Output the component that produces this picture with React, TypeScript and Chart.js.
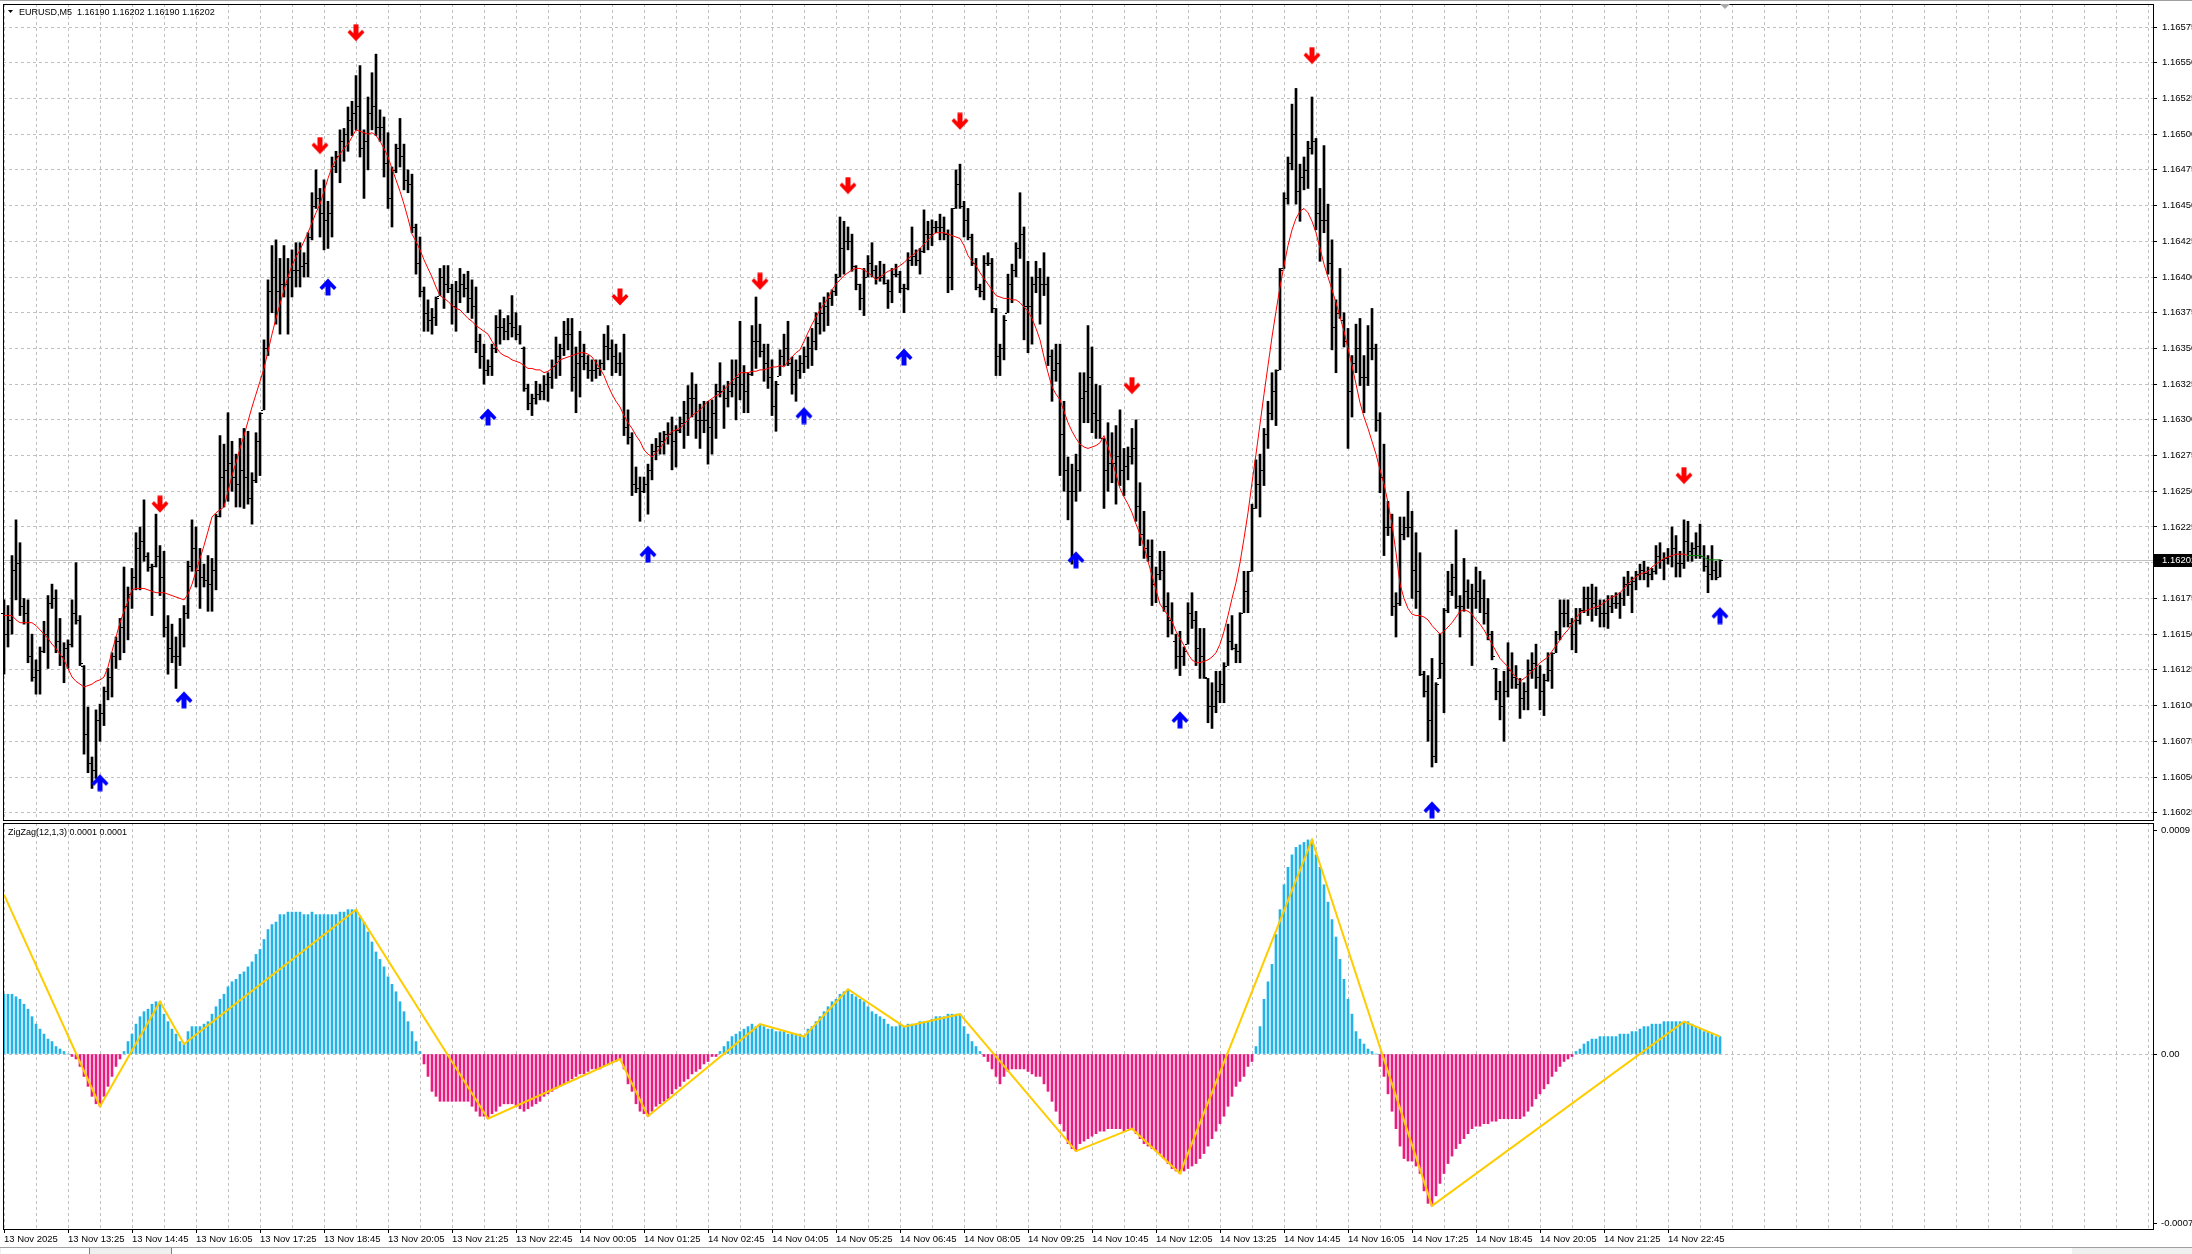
import React, { useEffect, useRef } from "react";
import { Chart, registerables } from "chart.js";

Chart.register(...registerables);

// ---- data (prices stored in points of 0.00001 above BASE_PRICE) ----
const BASE_PRICE = 1.16;
const POINT = 0.00001;
const SYMBOL_TEXT = "EURUSD,M5  1.16190 1.16202 1.16190 1.16202";
const INDICATOR_TEXT = "ZigZag(12,1,3) 0.0001 0.0001";
const BID = 202;
const BID_LABEL = "1.16202";
const FIRST_OPEN = 165;

const HIGH = [
  174,170,205,230,214,175,174,150,132,141,
  159,177,185,181,161,144,146,174,200,163,
  128,99,64,97,101,113,126,137,148,161,
  197,183,196,221,225,244,207,199,234,212,
  208,163,157,148,161,170,201,230,225,210,
  199,205,203,234,289,283,305,285,276,287,
  294,292,263,291,305,356,398,422,426,413,
  422,413,419,424,424,417,431,459,475,462,
  468,453,484,488,503,504,519,523,541,548,
  503,526,543,556,517,512,501,477,493,511,
  493,475,472,437,428,393,384,378,386,406,
  408,408,395,397,406,402,404,398,393,360,
  353,342,353,373,377,371,373,387,375,366,
  351,325,318,327,325,331,333,342,358,353,
  369,371,371,351,362,353,345,342,342,342,
  360,366,356,353,347,360,307,291,267,260,
  260,269,283,287,291,292,298,302,296,302,
  313,324,333,325,311,313,313,314,325,340,
  324,327,342,342,369,338,333,366,386,367,
  353,353,342,327,349,360,369,344,342,345,
  351,358,364,375,382,386,389,391,402,442,
  439,435,430,408,395,406,415,424,408,411,
  409,398,406,409,404,395,417,435,419,420,
  447,439,440,439,444,442,433,448,475,479,
  453,448,430,413,395,415,417,413,378,353,
  373,402,409,424,459,435,411,400,411,406,
  417,400,349,353,353,313,274,269,276,333,
  333,366,351,325,324,287,298,291,296,307,
  280,281,294,300,256,236,216,216,197,208,
  208,179,172,150,152,141,172,179,166,154,
  154,119,116,124,124,130,157,163,143,165,
  194,194,241,272,276,294,313,333,335,406,
  459,484,521,532,479,484,495,526,497,462,
  492,451,426,384,406,375,364,345,367,371,
  345,366,378,353,305,283,243,234,179,232,
  232,250,236,221,207,124,121,133,116,150,
  168,194,199,223,177,203,188,185,197,194,
  188,175,152,126,117,124,144,137,128,119,
  116,132,137,143,128,122,137,137,152,174,
  174,174,161,168,168,183,183,185,183,174,
  174,177,177,179,179,190,194,190,194,199,
  201,197,196,212,214,207,210,225,219,208,
  230,229,214,221,227,212,205,212,201,202
];

const LOW = [
  122,141,150,174,163,157,130,117,108,108,
  137,126,168,137,128,116,126,141,157,128,
  66,53,42,49,75,86,104,106,126,132,
  137,146,168,181,181,201,194,163,197,177,
  148,122,130,112,128,141,161,194,183,168,
  183,166,166,181,232,239,243,250,239,239,
  238,241,227,256,261,307,345,375,367,360,
  386,360,386,393,393,400,400,426,448,428,
  419,420,428,473,466,481,488,499,503,484,
  455,475,503,499,495,470,448,435,473,477,
  461,459,431,402,386,362,362,360,366,387,
  378,389,367,362,382,386,375,371,347,336,
  325,331,331,347,353,356,356,358,356,353,
  320,307,303,311,314,314,313,322,329,331,
  345,349,320,305,316,335,329,327,329,331,
  335,342,331,333,331,289,283,247,249,229,
  249,234,258,272,276,276,283,265,267,291,
  280,289,302,287,280,291,269,276,287,316,
  294,309,316,300,314,305,305,331,336,344,
  327,322,303,292,331,338,338,318,313,329,
  333,336,338,349,360,362,366,380,387,400,
  402,419,404,391,377,373,400,400,395,397,
  395,378,382,400,389,375,391,408,408,402,
  417,419,422,431,426,426,389,391,448,448,
  428,426,408,391,386,384,408,375,331,331,
  342,375,382,400,413,356,347,353,389,367,
  387,338,313,327,261,250,230,199,243,250,
  298,298,291,287,287,238,250,256,241,254,
  247,258,269,229,212,203,201,170,172,188,
  166,148,150,126,121,128,143,154,128,119,
  119,88,84,95,102,102,128,139,130,130,
  165,165,194,238,232,254,280,300,296,335,
  406,451,475,451,439,461,462,486,433,411,
  431,402,349,333,371,351,280,302,333,324,
  305,324,342,292,249,205,219,163,148,170,
  216,218,175,168,121,106,75,57,60,119,
  95,165,177,168,148,166,168,128,168,165,
  157,146,132,104,90,75,106,112,112,91,
  97,97,119,112,97,93,117,112,137,146,
  155,155,139,137,157,165,163,159,163,155,
  155,154,165,168,161,170,177,165,181,188,
  188,183,188,192,196,188,199,197,190,190,
  196,201,201,203,203,194,179,188,188,190
];

const CLOSE = [
  150,160,195,200,170,165,135,120,125,138,
  150,172,175,145,135,140,143,165,160,130,
  80,60,55,90,95,110,120,135,145,155,
  170,178,190,210,215,205,197,198,205,190,
  155,140,135,135,150,165,198,210,195,190,
  188,185,195,233,260,265,270,260,255,265,
  260,245,258,285,305,350,390,400,390,395,
  395,400,405,405,408,410,428,450,455,445,
  440,445,478,485,495,500,510,515,520,490,
  495,515,520,505,505,480,455,475,490,485,
  468,465,435,410,390,375,370,372,385,400,
  395,392,380,390,395,392,385,380,355,345,
  335,338,350,365,365,362,368,365,360,350,
  322,312,315,318,320,325,330,338,345,350,
  360,360,330,340,345,340,335,335,336,340,
  352,350,345,340,340,295,288,255,252,250,
  255,265,278,282,285,290,290,285,293,298,
  305,315,315,300,300,300,295,305,320,320,
  315,320,325,330,325,320,332,355,355,348,
  340,330,310,325,345,350,340,325,335,340,
  345,350,355,368,375,380,385,390,400,420,
  425,425,408,395,385,400,410,405,400,400,
  396,390,402,402,392,392,412,415,412,418,
  430,430,435,435,435,430,400,448,465,450,
  440,428,410,393,390,410,410,378,345,350,
  370,395,405,420,430,380,380,395,400,395,
  395,345,335,340,290,265,250,250,265,315,
  320,330,305,300,287,265,270,270,275,265,
  268,275,280,240,220,210,205,185,192,195,
  170,160,145,135,135,138,165,160,140,135,
  120,100,100,110,115,128,145,140,138,165,
  180,194,238,255,265,290,305,320,335,405,
  455,480,500,460,470,475,490,495,445,440,
  440,410,365,375,370,355,320,340,350,330,
  330,350,350,300,260,225,225,170,172,220,
  225,225,195,180,122,110,90,65,115,130,
  167,180,190,170,170,180,175,175,180,175,
  165,150,135,110,100,110,125,120,115,105,
  110,125,130,120,110,118,125,137,150,165,
  165,158,150,160,167,175,175,172,168,165,
  165,170,172,172,175,185,185,187,192,195,
  193,192,194,205,202,203,205,210,200,200,
  215,208,210,212,205,198,192,195,190,202
];

const MA = [
  163,163,163,160,158,158,158,158,156,153,
  150,147,143,140,136,132,126,120,117,115,
  113,114,115,117,118,120,127,138,148,158,
  166,173,181,182,182,182,181,180,179,179,
  179,178,177,176,175,174,178,185,194,203,
  212,222,232,235,237,239,250,261,270,280,
  289,299,309,318,327,336,348,360,371,381,
  391,400,408,414,419,425,431,438,445,451,
  460,469,477,482,486,490,493,498,503,502,
  501,500,501,499,495,490,484,476,468,460,
  451,441,430,425,419,412,406,400,393,387,
  385,383,380,378,377,374,371,369,366,364,
  362,360,355,351,347,345,344,342,341,340,
  338,336,336,335,335,333,334,336,339,342,
  343,344,345,346,347,347,346,344,340,336,
  331,324,318,313,309,303,298,294,289,285,
  279,276,274,277,280,284,289,292,293,294,
  297,300,303,305,307,310,313,315,317,318,
  321,324,327,330,333,333,333,334,334,335,
  335,336,337,337,338,337,341,344,347,349,
  355,361,367,372,377,381,385,391,395,398,
  401,403,405,406,406,405,403,401,398,400,
  402,404,405,406,408,410,413,415,417,420,
  423,426,429,431,431,431,430,429,428,427,
  422,415,411,408,403,399,395,391,387,386,
  385,385,384,384,382,379,376,371,364,356,
  344,333,323,318,314,306,298,292,287,283,
  281,280,281,282,284,289,281,272,262,252,
  246,241,235,227,220,211,201,191,181,171,
  167,163,159,152,147,142,136,132,130,130,
  131,132,134,137,143,152,163,175,186,200,
  217,235,256,276,297,318,338,358,376,393,
  408,422,433,441,446,448,445,439,431,420,
  409,400,391,382,372,362,350,338,325,312,
  302,294,285,276,265,255,242,227,207,185,
  175,168,164,163,163,162,160,156,153,150,
  152,155,158,162,166,167,166,164,160,157,
  153,148,143,138,133,130,127,123,120,117,
  119,121,124,127,130,132,134,138,142,146,
  150,153,157,161,165,166,167,168,169,170,
  172,174,176,177,179,182,185,188,190,192,
  193,194,197,199,201,203,204,205,206,206,
  206,205,205,205,205,204,202,202,202,202
];
const MA_GREEN_FROM = 421;

// oscillator histogram, in units of 0.00001
const OSC = [
  24,24,24,23,22,20,18,15,12,10,
  8,6,5,3,2,1,0,-1,-2,-5,
  -9,-13,-17,-20,-21,-17,-13,-9,-5,-2,
  1,5,8,12,15,17,18,20,21,21,
  16,13,10,8,5,4,9,11,11,11,
  12,13,16,19,22,24,27,29,30,32,
  33,35,37,40,42,46,50,52,53,56,
  56,57,57,57,57,56,56,57,56,56,
  56,56,56,56,57,57,58,58,58,55,
  53,49,45,41,38,35,31,28,25,21,
  17,13,9,5,1,-4,-9,-15,-17,-19,
  -19,-19,-19,-19,-19,-19,-19,-21,-23,-25,
  -25,-26,-24,-23,-21,-20,-20,-20,-21,-22,
  -23,-22,-21,-20,-19,-17,-16,-15,-14,-13,
  -12,-11,-10,-9,-8,-8,-7,-6,-6,-6,
  -5,-4,-3,-3,-2,-6,-12,-15,-20,-23,
  -24,-25,-23,-21,-20,-19,-18,-16,-14,-13,
  -11,-10,-8,-7,-6,-4,-3,-1,-1,1,
  3,5,7,8,9,10,11,12,11,12,
  11,10,10,9,9,9,8,8,8,8,
  7,10,11,13,15,17,19,21,22,24,
  25,26,24,23,22,21,19,17,16,15,
  14,12,11,11,12,11,12,12,12,13,
  13,13,14,15,15,15,16,16,16,16,
  11,8,5,3,1,-1,-3,-6,-9,-12,
  -9,-7,-6,-6,-6,-6,-7,-8,-9,-9,
  -12,-15,-19,-23,-28,-31,-36,-38,-39,-36,
  -35,-34,-33,-32,-31,-31,-30,-30,-30,-30,
  -31,-30,-30,-32,-34,-36,-37,-38,-39,-40,
  -42,-44,-46,-47,-48,-47,-46,-45,-44,-42,
  -40,-37,-34,-31,-28,-25,-21,-17,-13,-11,
  -9,-5,-3,3,11,22,29,36,48,58,
  68,75,80,83,84,85,86,86,80,75,
  68,61,54,47,38,30,22,16,9,6,
  4,2,1,0,-5,-9,-16,-23,-30,-37,
  -42,-43,-43,-45,-48,-55,-60,-61,-57,-52,
  -48,-44,-41,-38,-36,-34,-32,-30,-29,-29,
  -28,-28,-27,-27,-26,-26,-26,-26,-26,-26,
  -25,-23,-21,-18,-16,-14,-12,-9,-7,-5,
  -3,-2,-1,1,2,4,5,6,6,7,
  7,7,7,7,8,8,8,9,9,10,
  11,11,12,12,12,13,13,13,13,13,
  13,13,12,11,10,9,9,8,7,7
];

// [bar index, price points]
const DOWN_ARROWS = [
  [39, 241], [79, 492], [88, 571], [154, 386], [189, 397],
  [211, 464], [239, 509], [282, 324], [327, 555], [420, 261]
];
const UP_ARROWS = [
  [24, 46], [45, 104], [81, 393], [121, 302], [161, 206], [200, 303],
  [225, 344], [268, 202], [294, 90], [357, 27], [429, 163]
];

// [bar index, oscillator value in 0.00001]
const ZIGZAG = [
  [0, 64], [24, -21], [39, 21], [45, 4], [88, 58], [121, -26], [154, -2],
  [161, -25], [189, 12], [200, 7], [211, 26], [225, 11], [239, 16],
  [268, -39], [282, -30], [294, -48], [327, 86], [357, -61], [420, 13], [429, 7]
];

const TIME_LABELS = [
  "13 Nov 2025", "13 Nov 13:25", "13 Nov 14:45", "13 Nov 16:05", "13 Nov 17:25",
  "13 Nov 18:45", "13 Nov 20:05", "13 Nov 21:25", "13 Nov 22:45", "14 Nov 00:05",
  "14 Nov 01:25", "14 Nov 02:45", "14 Nov 04:05", "14 Nov 05:25", "14 Nov 06:45",
  "14 Nov 08:05", "14 Nov 09:25", "14 Nov 10:45", "14 Nov 12:05", "14 Nov 13:25",
  "14 Nov 14:45", "14 Nov 16:05", "14 Nov 17:25", "14 Nov 18:45", "14 Nov 20:05",
  "14 Nov 21:25", "14 Nov 22:45"
];
const LABEL_EVERY = 16;
const GRID_EVERY = 8;

const PRICE_TICKS = [25,50,75,100,125,150,175,200,225,250,275,300,325,350,375,400,425,450,475,500,525,550,575];
const PRICE_TICK_LABELS = [
  "1.16025","1.16050","1.16075","1.16100","1.16125","1.16150","1.16175","1.16200",
  "1.16225","1.16250","1.16275","1.16300","1.16325","1.16350","1.16375","1.16400",
  "1.16425","1.16450","1.16475","1.16500","1.16525","1.16550","1.16575"
];
const PRICE_MIN = 19.9;
const PRICE_MAX = 591.1;
const OSC_MAX = 92.8;
const OSC_MIN = -70.3;
const OSC_LABELS = ["0.0009", "0.00", "-0.0007"];

const X_MIN = -0.25;
const X_MAX = 537.25;

const FONT_FAMILY = '"Liberation Sans", Arial, sans-serif';
const FONT_SIZE = 9.5;
const FONT = `${FONT_SIZE}px ${FONT_FAMILY}`;
const SMALL_FONT = `9px ${FONT_FAMILY}`;
const GRID_COLOR = "#c0c0c0";
const HIST_UP = "#22b2e8";
const HIST_DOWN = "#ea1a80";
const ZZ_COLOR = "#ffcc00";

const W = 2192;
const H_TOP = 821;
const H_BOT = 433;

const px = (p: number) => BASE_PRICE + p * POINT;

function arrowImage(color: string, down: boolean): HTMLCanvasElement {
  const c = document.createElement("canvas");
  c.width = 18;
  c.height = 18;
  const g = c.getContext("2d")!;
  g.fillStyle = color;
  const pts = [[-2.5, -8.5], [2.5, -8.5], [2.5, 0.5], [6, -3], [8.5, -0.5], [0, 8.5], [-8.5, -0.5], [-6, -3], [-2.5, 0.5]];
  g.beginPath();
  pts.forEach(([x, y], k) => {
    const X = 9 + x;
    const Y = 9 + (down ? y : -y);
    if (k === 0) g.moveTo(X, Y);
    else g.lineTo(X, Y);
  });
  g.closePath();
  g.fill();
  return c;
}

const xGridTicks = (s: any) => {
  const t: any[] = [];
  for (let v = 0; v <= X_MAX; v += GRID_EVERY) t.push({ value: v });
  s.ticks = t;
};
const noPad = (s: any) => {
  s.paddingTop = 0;
  s.paddingBottom = 0;
  s.paddingLeft = 0;
  s.paddingRight = 0;
};

export default function App() {
  const topRef = useRef<HTMLCanvasElement>(null);
  const botRef = useRef<HTMLCanvasElement>(null);

  useEffect(() => {
    const N = HIGH.length;
    const idx = Array.from({ length: N }, (_, i) => i);

    const topPlugin = {
      id: "mt4top",
      beforeDraw(chart: any) {
        const ctx = chart.ctx;
        ctx.save();
        ctx.fillStyle = "#ffffff";
        ctx.fillRect(0, 0, W, H_TOP);
        ctx.fillStyle = "#a0a0a0";
        ctx.fillRect(0, 0, W, 1);
        ctx.restore();
      },
      beforeDatasetsDraw(chart: any) {
        const ctx = chart.ctx;
        const ca = chart.chartArea;
        const y = Math.round(chart.scales.y.getPixelForValue(px(BID))) + 0.5;
        ctx.save();
        ctx.strokeStyle = "#c0c0c0";
        ctx.lineWidth = 1;
        ctx.beginPath();
        ctx.moveTo(ca.left, y);
        ctx.lineTo(ca.right, y);
        ctx.stroke();
        ctx.restore();
      },
      afterDatasetDraw(chart: any, args: any) {
        if (args.index !== 0) return;
        const ctx = chart.ctx;
        const xs = chart.scales.x;
        const ys = chart.scales.y;
        ctx.save();
        ctx.fillStyle = "#000";
        for (let i = 0; i < N; i++) {
          const x = Math.round(xs.getPixelForValue(i));
          let o = i === 0 ? FIRST_OPEN : CLOSE[i - 1];
          o = Math.min(HIGH[i], Math.max(LOW[i], o));
          const yo = Math.round(ys.getPixelForValue(px(o)));
          const yc = Math.round(ys.getPixelForValue(px(CLOSE[i])));
          ctx.fillRect(x - 3, yo, 2, 1);
          ctx.fillRect(x + 1, yc, 2, 1);
        }
        ctx.restore();
      },
      afterDraw(chart: any) {
        const ctx = chart.ctx;
        const ca = chart.chartArea;
        ctx.save();
        ctx.strokeStyle = "#000";
        ctx.lineWidth = 1;
        ctx.strokeRect(ca.left + 0.5, ca.top + 0.5, ca.right - ca.left, ca.bottom - ca.top);
        // bid label
        const y = Math.round(chart.scales.y.getPixelForValue(px(BID)));
        ctx.fillStyle = "#000";
        ctx.fillRect(ca.right + 1, y - 6, W - ca.right, 13);
        ctx.fillStyle = "#fff";
        ctx.font = FONT;
        ctx.textBaseline = "middle";
        ctx.textAlign = "left";
        ctx.fillText(BID_LABEL, ca.right + 9, y + 0.5);
        // header
        ctx.fillStyle = "#000";
        ctx.beginPath();
        ctx.moveTo(8, 10);
        ctx.lineTo(13, 10);
        ctx.lineTo(10.5, 13);
        ctx.closePath();
        ctx.fill();
        ctx.font = SMALL_FONT;
        ctx.fillText(SYMBOL_TEXT, 19, 12.5);
        // chart shift marker
        ctx.fillStyle = "#a8a8a8";
        ctx.beginPath();
        ctx.moveTo(1720, 4);
        ctx.lineTo(1730, 4);
        ctx.lineTo(1725, 9);
        ctx.closePath();
        ctx.fill();
        ctx.restore();
      }
    };

    const top = new Chart(topRef.current!, {
      type: "bar",
      data: {
        datasets: [
          {
            type: "bar",
            data: idx.map((i) => ({ x: i, y: [px(LOW[i]), px(HIGH[i])] })) as any,
            backgroundColor: "#000",
            borderWidth: 0,
            barThickness: 2,
            order: 3
          } as any,
          {
            type: "line",
            data: idx.map((i) => ({ x: i, y: px(MA[i]) })),
            borderColor: "#ff0000",
            borderWidth: 1,
            pointRadius: 0,
            tension: 0,
            segment: {
              borderColor: (c: any) => (c.p0DataIndex >= MA_GREEN_FROM ? "#008000" : "#ff0000")
            },
            order: 2
          } as any,
          {
            type: "scatter",
            data: DOWN_ARROWS.map(([i, p]) => ({ x: i, y: px(p) })),
            pointStyle: arrowImage("#ff0000", true),
            pointRadius: 9,
            order: 1
          } as any,
          {
            type: "scatter",
            data: UP_ARROWS.map(([i, p]) => ({ x: i, y: px(p) })),
            pointStyle: arrowImage("#0000ff", false),
            pointRadius: 9,
            order: 1
          } as any
        ]
      },
      options: {
        responsive: false,
        animation: false,
        devicePixelRatio: 1,
        events: [],
        layout: { autoPadding: false, padding: { left: 3, top: 4, right: 0, bottom: 1 } },
        plugins: { legend: { display: false }, tooltip: { enabled: false } },
        scales: {
          x: {
            type: "linear",
            offset: false,
            min: X_MIN,
            max: X_MAX,
            bounds: "data",
            afterBuildTicks: xGridTicks,
            afterFit: (s: any) => { s.height = 0; noPad(s); },
            ticks: { display: false },
            grid: { offset: false, color: GRID_COLOR, lineWidth: 1, drawTicks: false },
            border: { display: false, dash: [3, 3] }
          },
          y: {
            type: "linear",
            position: "right",
            min: px(PRICE_MIN),
            max: px(PRICE_MAX),
            bounds: "data",
            afterBuildTicks: (s: any) => { s.ticks = PRICE_TICKS.map((p) => ({ value: px(p) })); },
            afterFit: (s: any) => { s.width = 39; noPad(s); },
            ticks: {
              autoSkip: false,
              padding: 5,
              color: "#000",
              font: { family: FONT_FAMILY, size: FONT_SIZE },
              callback: (_v: any, i: number) => PRICE_TICK_LABELS[i]
            },
            grid: { color: GRID_COLOR, lineWidth: 1, tickLength: 4, tickColor: "#000", drawTicks: true },
            border: { display: false, dash: [3, 3] }
          }
        }
      } as any,
      plugins: [topPlugin]
    });

    const botPlugin = {
      id: "mt4bot",
      beforeDraw(chart: any) {
        const ctx = chart.ctx;
        ctx.save();
        ctx.fillStyle = "#ffffff";
        ctx.fillRect(0, 0, W, H_BOT);
        ctx.restore();
      },
      afterDraw(chart: any) {
        const ctx = chart.ctx;
        const ca = chart.chartArea;
        const ys = chart.scales.y;
        ctx.save();
        ctx.strokeStyle = "#000";
        ctx.lineWidth = 1;
        ctx.strokeRect(ca.left + 0.5, ca.top + 0.5, ca.right - ca.left, ca.bottom - ca.top);
        ctx.font = FONT;
        ctx.fillStyle = "#000";
        ctx.textBaseline = "middle";
        ctx.textAlign = "left";
        const yMax = ys.getPixelForValue(OSC_MAX * POINT) + 7;
        const yZero = ys.getPixelForValue(0);
        const yMin = ys.getPixelForValue(OSC_MIN * POINT) - 6;
        [yMax, yZero, yMin].forEach((yy, k) => {
          ctx.fillRect(ca.right + 1, Math.round(yy), 3, 1);
          ctx.fillText(OSC_LABELS[k], ca.right + 8, yy + 0.5);
        });
        ctx.font = SMALL_FONT;
        ctx.fillText(INDICATOR_TEXT, 8, ca.top + 10);
        // bottom tab strip
        ctx.fillStyle = "#f0f0f0";
        ctx.fillRect(0, H_BOT - 7, W, 7);
        ctx.fillStyle = "#a0a0a0";
        ctx.fillRect(0, H_BOT - 7, W, 1);
        ctx.fillStyle = "#ffffff";
        ctx.fillRect(1, H_BOT - 6, 88, 6);
        ctx.fillRect(172, H_BOT - 6, 1900, 6);
        ctx.fillStyle = "#808080";
        ctx.fillRect(89, H_BOT - 6, 1, 6);
        ctx.fillRect(171, H_BOT - 6, 1, 6);
        ctx.restore();
      }
    };

    const bot = new Chart(botRef.current!, {
      type: "bar",
      data: {
        datasets: [
          {
            type: "bar",
            data: idx.map((i) => ({ x: i, y: OSC[i] * POINT })),
            backgroundColor: OSC.map((v) => (v >= 0 ? HIST_UP : HIST_DOWN)),
            borderWidth: 0,
            barThickness: 2,
            order: 2
          } as any,
          {
            type: "line",
            data: ZIGZAG.map(([i, v]) => ({ x: i, y: v * POINT })),
            borderColor: ZZ_COLOR,
            borderWidth: 2,
            pointRadius: 0,
            tension: 0,
            order: 1
          } as any
        ]
      },
      options: {
        responsive: false,
        animation: false,
        devicePixelRatio: 1,
        events: [],
        layout: { autoPadding: false, padding: { left: 3, top: 2, right: 0, bottom: 0 } },
        plugins: { legend: { display: false }, tooltip: { enabled: false } },
        scales: {
          x: {
            type: "linear",
            offset: false,
            min: X_MIN,
            max: X_MAX,
            bounds: "data",
            afterBuildTicks: xGridTicks,
            afterFit: (s: any) => { s.height = 25; noPad(s); },
            ticks: {
              autoSkip: false,
              maxRotation: 0,
              minRotation: 0,
              align: "start",
              padding: 1,
              color: "#000",
              font: { family: FONT_FAMILY, size: FONT_SIZE },
              callback: (v: any) => {
                const n = Number(v);
                if (n % LABEL_EVERY !== 0) return "";
                return TIME_LABELS[n / LABEL_EVERY] ?? "";
              }
            },
            grid: {
              offset: false,
              color: GRID_COLOR,
              lineWidth: 1,
              drawTicks: true,
              tickLength: 4,
              tickColor: (c: any) =>
                c.tick && c.tick.value % LABEL_EVERY === 0 && TIME_LABELS[c.tick.value / LABEL_EVERY]
                  ? "#000"
                  : "rgba(0,0,0,0)"
            },
            border: { display: false, dash: [3, 3] }
          },
          y: {
            type: "linear",
            position: "right",
            min: OSC_MIN * POINT,
            max: OSC_MAX * POINT,
            bounds: "data",
            afterBuildTicks: (s: any) => { s.ticks = [{ value: 0 }]; },
            afterFit: (s: any) => { s.width = 39; noPad(s); },
            ticks: { display: false },
            grid: { color: GRID_COLOR, lineWidth: 1, drawTicks: false },
            border: { display: false, dash: [3, 3] }
          }
        }
      } as any,
      plugins: [botPlugin]
    });

    return () => {
      top.destroy();
      bot.destroy();
    };
  }, []);

  return (
    <div style={{ position: "fixed", left: 0, top: 0, width: W, height: H_TOP + H_BOT, background: "#fff", overflow: "hidden" }}>
      <canvas
        ref={topRef}
        width={W}
        height={H_TOP}
        style={{ position: "absolute", left: 0, top: 0, width: W, height: H_TOP }}
      />
      <canvas
        ref={botRef}
        width={W}
        height={H_BOT}
        style={{ position: "absolute", left: 0, top: H_TOP, width: W, height: H_BOT }}
      />
    </div>
  );
}
